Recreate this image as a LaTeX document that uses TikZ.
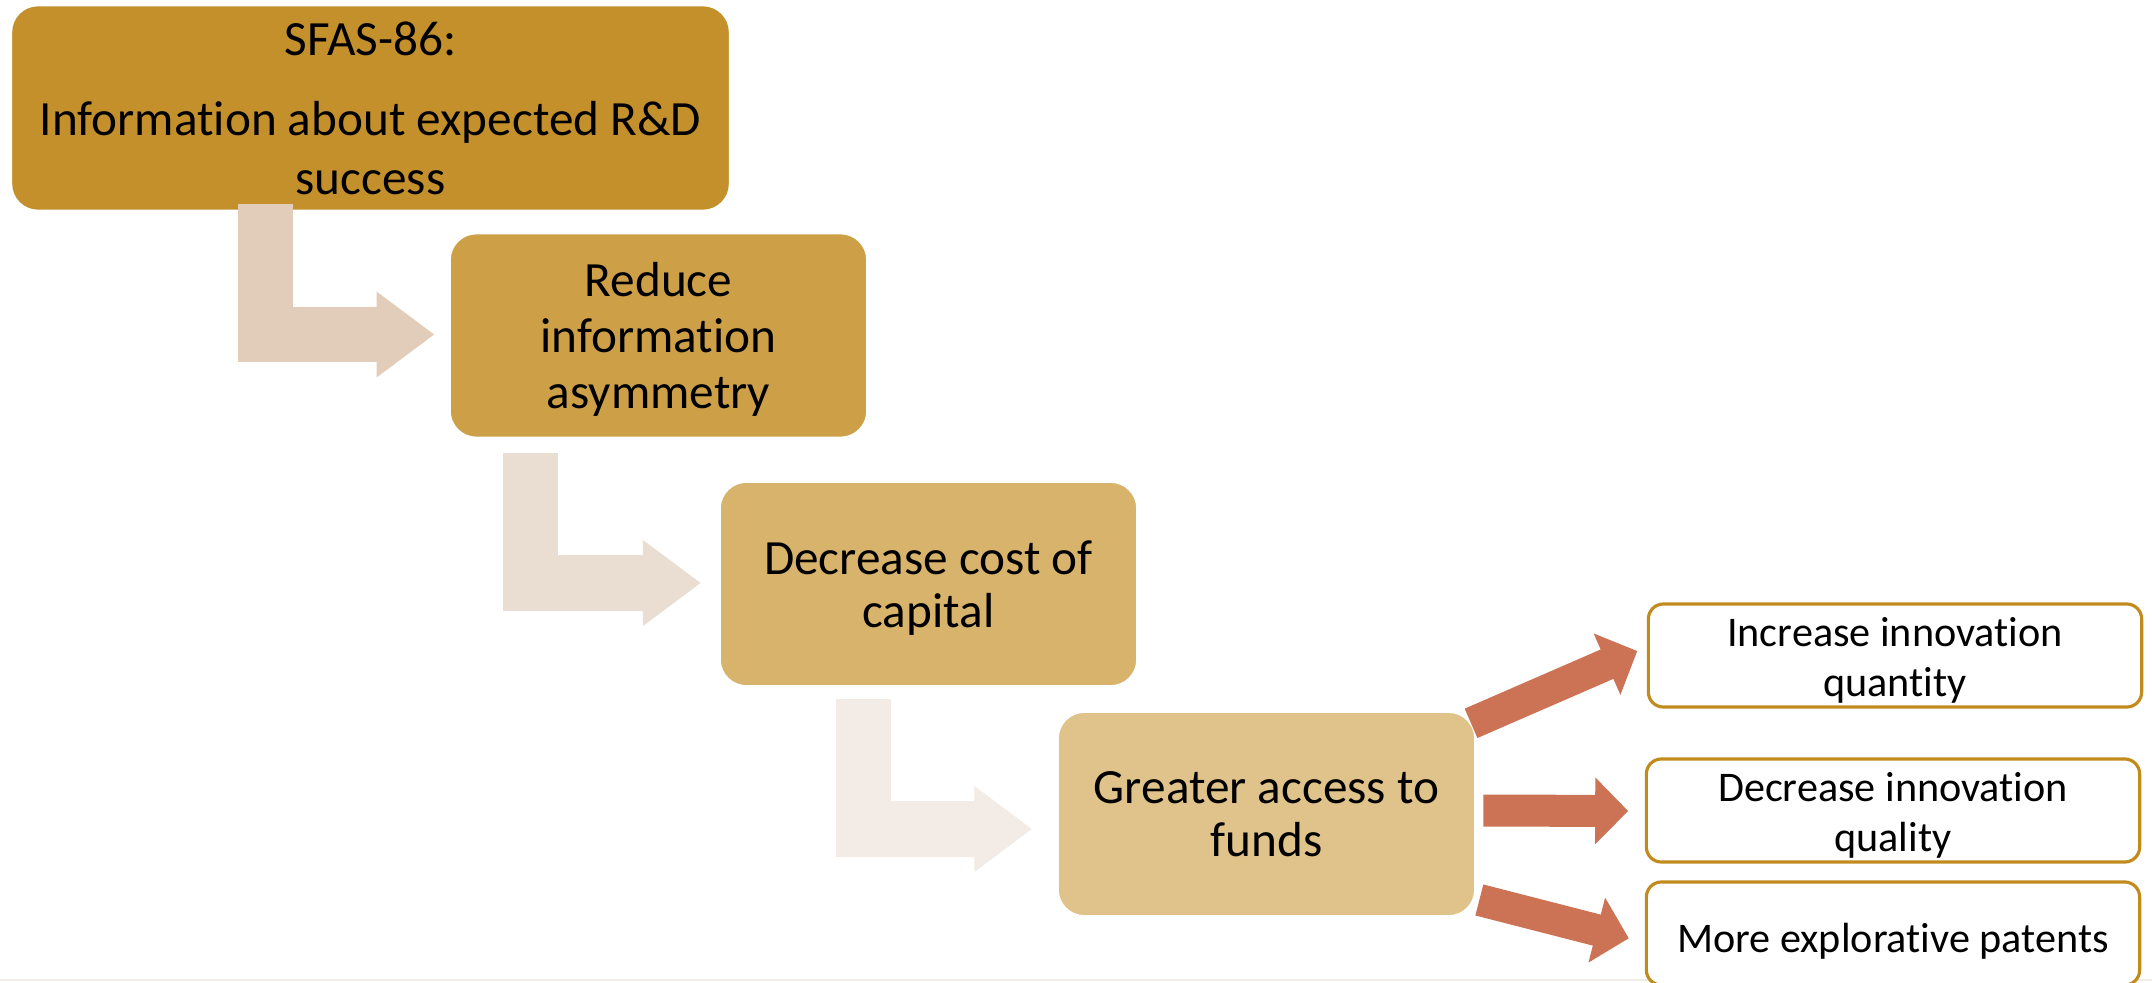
\documentclass[tikz,border=0pt]{standalone}
\usepackage{fontspec}
\setmainfont{Carlito}[Ligatures=NoCommon]
\usetikzlibrary{arrows.meta, calc}
\definecolor{ochreA}{HTML}{C4902B}
\definecolor{ochreB}{HTML}{CDA047}
\definecolor{ochreC}{HTML}{D7B36C}
\definecolor{ochreD}{HTML}{DFC38A}
\definecolor{fadeA}{HTML}{E2CCBA}
\definecolor{fadeB}{HTML}{EADDD2}
\definecolor{fadeC}{HTML}{F3EBE5}
\definecolor{hot}{HTML}{CD7355}
\definecolor{rim}{HTML}{C28B1E}
\newcommand{\lift}[1]{\rule{0pt}{#1}}

\begin{document}
\begin{tikzpicture}[x=0.01cm, y=-0.01cm,
  stage/.style={rounded corners=0.27cm, draw=white, line width=0.8pt, align=center,
    inner sep=0pt, minimum width=4.18cm, minimum height=2.05cm,
    font=\fontsize{14}{16}\selectfont},
  outcome/.style={rounded corners=0.15cm, draw=rim, fill=white, line width=0.9pt,
    align=center, inner sep=0pt, minimum width=4.93cm, minimum height=1.03cm,
    font=\fontsize{12}{14}\selectfont},
  elbow/.style={line width=0.55cm, -{Triangle[length=0.58cm, width=0.82cm]}},
  push/.style={draw=hot, line width=0.32cm, -{Triangle[length=0.33cm, width=0.65cm]}}]
\useasboundingbox (0,0) rectangle (2152,982);
\draw[line width=0.6pt, color=fadeC] (0,980) -- (2152,980);

% the chain of stages
\node[stage, fill=ochreA, minimum width=7.19cm, minimum height=2.06cm,
  font=\fontsize{14}{16.6}\selectfont] (sfas) at (370.5,108)
  {SFAS-86:\\[6.3pt] Information about expected R\&D\\ success};
\node[stage, fill=ochreB] (reduce) at (658.5,335.5) {\lift{12pt}Reduce\\ information\\ asymmetry};
\node[stage, fill=ochreC, font=\fontsize{14}{15}\selectfont] (cost) at (928.5,584)
  {\lift{12pt}Decrease cost of\\ capital};
\node[stage, fill=ochreD, font=\fontsize{14}{15}\selectfont] (funds) at (1266.5,814)
  {Greater access to\\ funds};

% outcomes
\node[outcome] (incq) at (1895,655.5) {\lift{11pt}Increase innovation\\ quantity};
\node[outcome] (decq) at (1893,810.5) {\lift{11pt}Decrease innovation\\ quality};
\node[outcome] (expl) at (1893,933.5) {\lift{12.5pt}More explorative patents};

% bent arrows
\draw[elbow, draw=fadeA] ([shift={(256,-8)}]sfas.south west) |- ([shift={(-13.4,-1)}]reduce.west);
\draw[elbow, draw=fadeB] ([shift={(83,14)}]reduce.south west) |- ([shift={(-17,-1)}]cost.west);
\draw[elbow, draw=fadeC] ([shift={(145.2,11.3)}]cost.south west) |- ([shift={(-23.7,15)}]funds.west);

% effects
\draw[push] ([shift={(-6,13.3)}]funds.north east) -- ([shift={(-9.5,-4.5)}]incq.west);
\draw[push] ([shift={(6.3,-3.5)}]funds.east) -- ([shift={(-16.6,0.5)}]decq.west);
\draw[push] ([shift={(2.3,-18)}]funds.south east) -- ([shift={(-16,4.8)}]expl.west);
\end{tikzpicture}
\end{document}
